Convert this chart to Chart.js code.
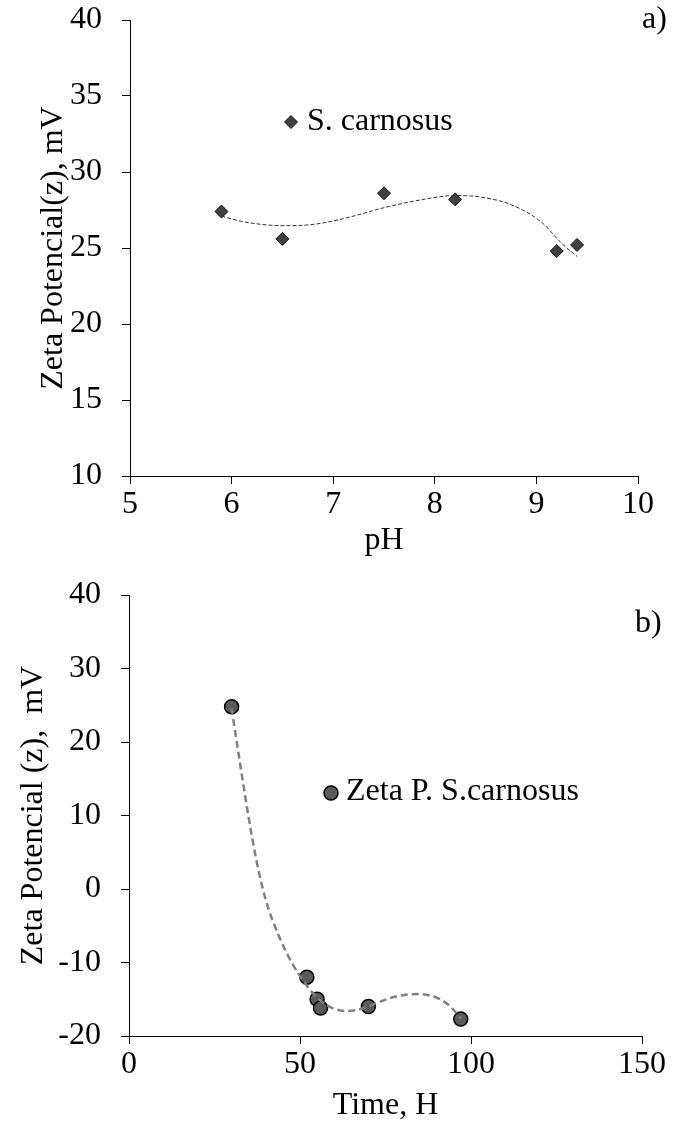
<!DOCTYPE html>
<html>
<head>
<meta charset="utf-8">
<script src="https://cdn.jsdelivr.net/npm/chart.js@4.4.1/dist/chart.umd.min.js"></script>
<style>
  html, body { margin: 0; padding: 0; background: #fff; }
  #page { position: relative; width: 674px; height: 1128px; overflow: hidden; }
  #page canvas { position: absolute; left: 0; }
  #chartA { top: 0; }
  #chartB { top: 560px; }
</style>
</head>
<body>
<div id="page">
  <canvas id="chartB" width="674" height="568"></canvas>
  <canvas id="chartA" width="674" height="560"></canvas>
</div>
<script>
// ---- Panel a: zeta potential against pH ----
const phValues   = [5.9, 6.5, 7.5, 8.2, 9.2, 9.4];
const phZeta     = [27.4, 25.6, 28.6, 28.2, 24.8, 25.2];
// polynomial trend line, sampled along the fitted curve
const phTrendX   = [5.9, 6.1, 6.3, 6.5, 6.8, 7.1, 7.5, 7.85, 8.2, 8.45, 8.75, 9.05, 9.25, 9.4];
const phTrendY   = [27.1, 26.75, 26.55, 26.47, 26.55, 26.93, 27.65, 28.15, 28.45, 28.35, 27.85, 26.7, 25.3, 24.45];
const phAxis     = [5, 10, 1];     // min, max, step
const zetaAxisA  = [10, 40, 5];

// ---- Panel b: zeta potential against time ----
const timeHours  = [30, 52, 55, 56, 70, 97];
const timeZeta   = [24.8, -12, -15, -16.2, -16, -17.7];
// polynomial trend line, sampled along the fitted curve
const timeTrendX = [30, 31, 32, 33, 34, 35, 36, 37, 38, 39, 40, 41, 42, 44, 46, 48, 50, 53, 56, 60, 64, 68, 72, 76, 80, 84.6, 88, 91, 94, 97];
const timeTrendY = [24.6, 21.55, 18.5, 15.5, 12.55, 9.7, 7.0, 4.5, 2.25, 0.25, -1.5, -3.0, -4.3, -6.6, -8.6, -10.35, -11.85, -13.75, -15.2, -16.3, -16.6, -16.3, -15.6, -14.9, -14.45, -14.3, -14.5, -15.0, -16.0, -17.6];
const timeAxis   = [0, 150, 50];
const zetaAxisB  = [-20, 40, 10];

const FONT_FAMILY = "'Liberation Serif', 'Times New Roman', serif";
const FONT_SIZE = 32;

const toPoints = (xs, ys) => xs.map((x, i) => ({ x: x, y: ys[i] }));

// draws the inset legend entry and the panel letter
const overlayPlugin = {
  id: 'overlay',
  afterDatasetsDraw(chart, args, opts) {
    const ctx = chart.ctx;
    ctx.save();
    ctx.font = FONT_SIZE + 'px ' + FONT_FAMILY;
    ctx.fillStyle = '#000';
    ctx.textBaseline = 'middle';
    ctx.textAlign = 'left';
    if (opts.legend) {
      const lg = opts.legend;
      const ds = chart.data.datasets[lg.datasetIndex];
      const r = ds.pointRadius;
      ctx.beginPath();
      if (ds.pointStyle === 'rectRot') {
        ctx.moveTo(lg.markerX - r, lg.markerY);
        ctx.lineTo(lg.markerX, lg.markerY - r);
        ctx.lineTo(lg.markerX + r, lg.markerY);
        ctx.lineTo(lg.markerX, lg.markerY + r);
        ctx.closePath();
      } else {
        ctx.arc(lg.markerX, lg.markerY, r, 0, Math.PI * 2);
      }
      ctx.fillStyle = ds.pointBackgroundColor;
      ctx.fill();
      ctx.lineWidth = ds.pointBorderWidth;
      ctx.strokeStyle = ds.pointBorderColor;
      ctx.stroke();
      ctx.fillStyle = '#000';
      ctx.fillText(ds.label, lg.textX, lg.textY);
    }
    if (opts.tag) {
      ctx.fillText(opts.tag.text, opts.tag.x, opts.tag.y);
    }
    ctx.restore();
  }
};

function axisOptions(range, titleText, titlePad, isY, size) {
  return {
    type: 'linear',
    min: range[0],
    max: range[1],
    ticks: {
      stepSize: range[2],
      autoSkip: false,
      maxRotation: 0,
      color: '#000',
      padding: isY ? 20 : 1,
      font: { family: FONT_FAMILY, size: FONT_SIZE }
    },
    grid: {
      drawOnChartArea: false,
      drawTicks: true,
      tickLength: 8,
      color: '#000',
      lineWidth: 1
    },
    border: { display: true, color: '#000', width: 1 },
    title: {
      display: true,
      text: titleText,
      color: '#000',
      padding: titlePad,
      font: { family: FONT_FAMILY, size: FONT_SIZE }
    },
    // fixed axis box so the plot area sits where the layout padding puts it
    afterFit: isY
      ? (s => { s.width = size; s.paddingTop = 0; s.paddingBottom = 0; })
      : (s => { s.height = size; s.paddingLeft = 0; s.paddingRight = 0; })
  };
}

// Panel a
new Chart(document.getElementById('chartA'), {
  type: 'scatter',
  data: {
    datasets: [
      {
        label: 'trend',
        type: 'line',
        data: toPoints(phTrendX, phTrendY),
        borderColor: '#333333',
        borderWidth: 1,
        borderDash: [4, 2],
        pointRadius: 0,
        fill: false,
        cubicInterpolationMode: 'monotone',
        order: 0
      },
      {
        label: 'S. carnosus',
        data: toPoints(phValues, phZeta),
        showLine: false,
        pointStyle: 'rectRot',
        pointRadius: 6.5,
        pointHoverRadius: 6.5,
        pointBackgroundColor: '#404040',
        pointBorderColor: '#111111',
        pointBorderWidth: 1,
        order: 1
      }
    ]
  },
  options: {
    responsive: false,
    animation: false,
    layout: { padding: { top: 20, right: 36, left: 0, bottom: 0 } },
    plugins: {
      legend: { display: false },
      tooltip: { enabled: false },
      overlay: {
        legend: { datasetIndex: 1, markerX: 291, markerY: 122, textX: 307, textY: 122 },
        tag: { text: 'a)', x: 642, y: 20 }
      }
    },
    scales: {
      x: axisOptions(phAxis, 'pH', { top: 0, bottom: 0 }, false, 84),
      y: axisOptions(zetaAxisA, 'Zeta Potencial(z), mV', { top: 34, bottom: 0 }, true, 130)
    }
  },
  plugins: [overlayPlugin]
});

// Panel b
new Chart(document.getElementById('chartB'), {
  type: 'scatter',
  data: {
    datasets: [
      {
        label: 'trend',
        type: 'line',
        data: toPoints(timeTrendX, timeTrendY),
        borderColor: '#808080',
        borderWidth: 2.5,
        borderDash: [7, 4],
        pointRadius: 0,
        fill: false,
        cubicInterpolationMode: 'monotone',
        order: 0
      },
      {
        label: 'Zeta P. S.carnosus',
        data: toPoints(timeHours, timeZeta),
        showLine: false,
        pointStyle: 'circle',
        pointRadius: 7,
        pointHoverRadius: 7,
        pointBackgroundColor: '#5a5a5a',
        pointBorderColor: '#000000',
        pointBorderWidth: 1.5,
        order: 1
      }
    ]
  },
  options: {
    responsive: false,
    animation: false,
    layout: { padding: { top: 35, right: 32, left: 0, bottom: 0 } },
    plugins: {
      legend: { display: false },
      tooltip: { enabled: false },
      overlay: {
        legend: { datasetIndex: 1, markerX: 331, markerY: 233, textX: 346, textY: 232 },
        tag: { text: 'b)', x: 635, y: 64 }
      }
    },
    scales: {
      x: axisOptions(timeAxis, 'Time, H', { top: 0, bottom: 3 }, false, 92),
      y: axisOptions(zetaAxisB, 'Zeta Potencial (z),  mV', { top: 14, bottom: 0 }, true, 129)
    }
  },
  plugins: [overlayPlugin]
});
</script>
</body>
</html>
